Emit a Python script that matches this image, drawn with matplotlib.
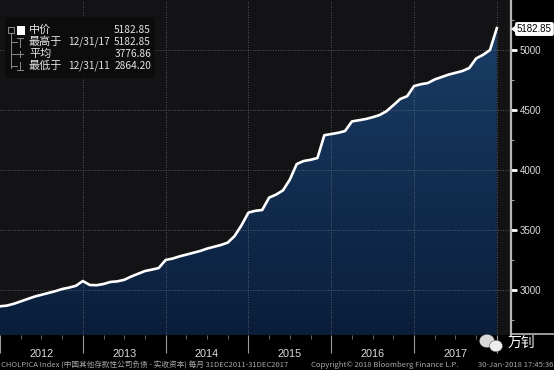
import numpy as np
import matplotlib.pyplot as plt
from matplotlib.colors import LinearSegmentedColormap
from matplotlib.patches import Polygon, FancyBboxPatch, Ellipse
from matplotlib.lines import Line2D
from matplotlib.transforms import blended_transform_factory

# data bulanan 31DEC2011 - 31DEC2017
months = np.arange(73)
values = [2864.20, 2870, 2885, 2905, 2925, 2945, 2960, 2975, 2990, 3008, 3020, 3035,
          3075, 3042, 3040, 3050, 3067, 3072, 3085, 3112, 3135, 3158, 3170, 3183,
          3250, 3262, 3280, 3295, 3310, 3325, 3345, 3360, 3375, 3395, 3450, 3540,
          3645, 3660, 3667, 3770, 3795, 3830, 3920, 4050, 4075, 4085, 4100, 4290,
          4300, 4310, 4325, 4405, 4415, 4425, 4440, 4458, 4490, 4540, 4592, 4615,
          4700, 4715, 4725, 4755, 4775, 4795, 4810, 4825, 4850, 4930, 4960, 5000,
          5182.85]
years = ['2012', '2013', '2014', '2015', '2016', '2017']
yticks = [3000, 3500, 4000, 4500, 5000]
legend_labels = ['中价', '最高于', '平均', '最低于']
legend_dates = ['', '12/31/17', '', '12/31/11']
legend_values = ['5182.85', '5182.85', '3776.86', '2864.20']
footnote = ['CHOLPICA Index (中国其他存款性公司负债 - 实收资本) 每月 31DEC2011-31DEC2017',
            'Copyright© 2018 Bloomberg Finance L.P.',
            '30-Jan-2018 17:45:36']

cjk = ['Noto Sans CJK SC', 'DejaVu Sans']
W, H = 554, 370


def px(x, y):
    # koordinat piksel -> fraksi figure
    return x / W, 1 - y / H


fig = plt.figure(figsize=(W / 100, H / 100), dpi=100, facecolor='black')
ax = fig.add_axes([0, 1 - 335 / H, 511 / W, 335 / H])
ax.set_facecolor('#131315')
ymin, ymax = 2625, 5417

# area dengan gradasi biru
verts = [(0, ymin)] + list(zip(months, values)) + [(months[-1], ymin)]
poly = Polygon(verts, closed=True, facecolor='none', edgecolor='none')
ax.add_patch(poly)
cmap = LinearSegmentedColormap.from_list('g', ['#0a1e3a', '#1a3d66'])
grad = np.linspace(0, 1, 256).reshape(-1, 1)
im = ax.imshow(grad, extent=[0, months[-1], ymin, max(values)], origin='lower',
               cmap=cmap, aspect='auto', zorder=1)
im.set_clip_path(poly)
ax.plot(months, values, color='white', lw=1.9, zorder=4, solid_joinstyle='round')

ax.set_xlim(0, 74.05)
ax.set_ylim(ymin, ymax)

# grid putus-putus
for v in yticks:
    ax.axhline(v, color='#6a6f78', lw=0.6, ls=(0, (1, 2)), zorder=2)
for m in range(12, 73, 12):
    ax.axvline(m, color='#6a6f78', lw=0.6, ls=(0, (1, 2)), zorder=2)

for s in ['top', 'left', 'bottom']:
    ax.spines[s].set_visible(False)
ax.spines['right'].set_color('#b5b5b5')
ax.spines['right'].set_linewidth(1.6)

ax.yaxis.tick_right()
ax.set_yticks(yticks)
ax.set_yticks(np.arange(2750, 5400, 500), minor=True)
ax.tick_params(axis='y', which='major', length=4, width=2, color='white',
               labelcolor='#dcdcdc', labelsize=7, pad=2)
ax.tick_params(axis='y', which='minor', length=2, width=0.8, color='#9a9a9a')
for lab in ax.get_yticklabels():
    lab.set_family('Liberation Sans')

ax.set_xticks(range(0, 73, 12))
ax.set_xticks(range(0, 73, 3), minor=True)
ax.tick_params(axis='x', which='major', length=13, width=0.8, color='#9a9a9a',
               labelbottom=False)
ax.tick_params(axis='x', which='minor', length=3, width=0.6, color='#7a7a7a')

tr = blended_transform_factory(ax.transData, fig.transFigure)
for i, yr in enumerate(years):
    ax.text(6 + 12 * i, px(0, 354)[1], yr, transform=tr, ha='center', va='center',
            color='#dcdcdc', fontsize=7.8, family='Liberation Sans')

# garis sumbu bawah kanan
fig.add_artist(Line2D([511 / W, 1], [px(0, 334)[1]] * 2, color='#b5b5b5', lw=1.2))

# label nilai terakhir
fig.text(*px(517, 29), legend_values[0], ha='left', va='center', fontsize=7,
         color='black', family='Liberation Sans',
         bbox=dict(boxstyle='round,pad=0.2,rounding_size=0.2', fc='white', ec='none'))
fig.add_artist(Polygon([px(511, 29), px(516, 25), px(516, 33)], closed=True,
                       transform=fig.transFigure, fc='white', ec='none'))

# kotak legenda
fig.add_artist(FancyBboxPatch(px(5, 78), 150 / W, 61 / H, boxstyle='round,pad=0,rounding_size=0.005',
                              transform=fig.transFigure, fc='#0c0c0d', ec='none', alpha=0.9))
rows_y = [30, 42, 54, 66]
for lab, dt, val, y in zip(legend_labels, legend_dates, legend_values, rows_y):
    fig.text(*px(29, y), lab, ha='left', va='center', fontsize=8, color='#e6e6e6', family=cjk)
    fig.text(*px(68, y), dt, ha='left', va='center', fontsize=7.3, color='#e6e6e6', family=cjk)
    fig.text(*px(151, y), val, ha='right', va='center', fontsize=7.3, color='#e6e6e6', family=cjk)
gc = '#8a8a8a'
fig.add_artist(Line2D(*zip(px(11, 34), px(11, 68)), color=gc, lw=0.7))
fig.add_artist(Line2D(*zip(px(8, 27), px(14, 27), px(14, 33), px(8, 33), px(8, 27)), color=gc, lw=0.7))
fig.add_artist(FancyBboxPatch(px(17, 35), 8 / W, 9 / H, boxstyle='square,pad=0',
                              transform=fig.transFigure, fc='white', ec='none'))
for y in rows_y[1:]:
    fig.add_artist(Line2D(*zip(px(11, y), px(17, y)), color=gc, lw=0.7))
# simbol tinggi / rata-rata / rendah
fig.add_artist(Line2D(*zip(px(20, 38), px(20, 47)), color=gc, lw=0.7))
fig.add_artist(Line2D(*zip(px(17, 38), px(23, 38)), color=gc, lw=0.7))
fig.add_artist(Line2D(*zip(px(17, 54), px(23, 54)), color=gc, lw=0.7))
fig.add_artist(Line2D(*zip(px(20, 51), px(20, 57)), color=gc, lw=0.7))
fig.add_artist(Line2D(*zip(px(20, 62), px(20, 70)), color=gc, lw=0.7))
fig.add_artist(Line2D(*zip(px(17, 70), px(23, 70)), color=gc, lw=0.7))

# catatan kaki
fig.text(*px(1, 365), footnote[0], ha='left', va='center', fontsize=5.5, color='#a8a8a8', family=cjk)
fig.text(*px(311, 365), footnote[1], ha='left', va='center', fontsize=5.5, color='#a8a8a8', family=cjk)
fig.text(*px(553, 365), footnote[2], ha='right', va='center', fontsize=5.5, color='#a8a8a8', family=cjk)

# watermark
fig.add_artist(Ellipse((487 / 100, (H - 341) / 100), 0.15, 0.13, transform=fig.dpi_scale_trans,
                       fc='#d8d8d8', ec='none'))
fig.add_artist(Ellipse((496 / 100, (H - 346) / 100), 0.13, 0.115, transform=fig.dpi_scale_trans,
                       fc='#eeeeee', ec='#555555', lw=0.4))
fig.text(*px(508, 343), '万钊', ha='left', va='center', fontsize=10, color='white', family=cjk)

fig.savefig('out.png', dpi=100, facecolor='black')
